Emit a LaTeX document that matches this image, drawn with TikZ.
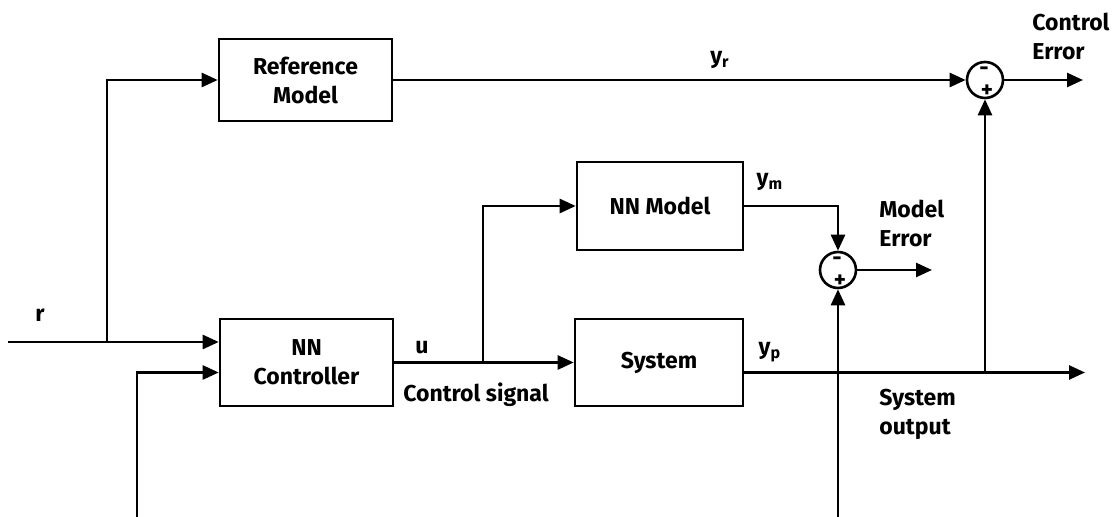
\documentclass[tikz,border=0pt]{standalone}
\usepackage{fontspec}
\setmainfont{Fira Sans}
\usetikzlibrary{positioning,arrows.meta}
\newcommand{\dgfont}{\fontsize{11.5}{14.5}\selectfont\bfseries}
\tikzset{
  block/.style={draw, rectangle, line width=1.3pt, align=center, font=\dgfont,
                minimum width=86.5pt, minimum height=43.5pt},
  sumj/.style={draw, circle, line width=1.3pt, minimum size=18pt, inner sep=0pt},
  sgn/.style={font=\dgfont, inner sep=0pt},
  sig/.style={-{Triangle[length=8pt,width=7pt]}, line width=1.3pt},
  lbl/.style={font=\dgfont, inner sep=1pt},
}

\begin{document}
\begin{tikzpicture}[x=0.5pt,y=-0.5pt]
\useasboundingbox (0,0) rectangle (1116,517);
% blocks
\node[block, minimum height=41pt] (refm) at (305.5,80) {Reference\\Model};
\node[block] (nnc) at (306.5,362.5) {NN\\Controller};
\node[block, minimum width=83pt, minimum height=44pt] (nnm) at (660,206) {NN Model};
\node[block, minimum width=84pt] (sys) at (659,362.5) {System};
% summing junctions
\node[sumj] (ce) at (985,80) {};
\node[sumj] (me) at (838,270) {};
\node[sgn] (cem) at ([xshift=-0.5pt,yshift=4.5pt]ce.center) {-};
\node[sgn] (cep) at ([xshift=1pt,yshift=-5.5pt]ce.center) {+};
\node[sgn] (mem) at ([xshift=-0.5pt,yshift=4.5pt]me.center) {-};
\node[sgn] (mep) at ([xshift=1pt,yshift=-5.5pt]me.center) {+};
% branch points and free ends
\coordinate (rin) at (8,342);
\coordinate (rb) at (107,342);
\coordinate (fb1) at (137,517);
\coordinate (ub) at (483,362.5);
\coordinate (fb2) at (838,517);
\coordinate (yb) at (985,372.5);
\coordinate (yout) at (1085,372.5);
\coordinate (ceout) at (1083,80);
\coordinate (meout) at (932,270);
% signals
\draw[sig] (rin) -- (rin -| nnc.west);
\draw[sig] (rb) |- (refm.west);
\draw[sig] (fb1) |- ([yshift=-5pt]nnc.west);
\draw[sig] (refm.east) -- (ce.west);
\draw[sig] (nnc.east) -- (sys.west);
\draw[sig] (ub) |- (nnm.west);
\draw[sig] (nnm.east) -| (me.north);
\draw[sig] ([yshift=-5pt]sys.east) -- (yout);
\draw[sig] (yb) -- (ce.south);
\draw[sig] (fb2) -- (me.south);
\draw[sig] (ce.east) -- (ceout);
\draw[sig] (me.east) -- (meout);
% labels
\node[lbl] (rl) at (40,315) {r};
\node[lbl] (ul) at (422,348) {u};
\node[lbl] (csl) at (476,395) {Control signal};
\node[lbl] (ypl) at (770,352) {y\textsubscript{p}};
\node[lbl] (yml) at (770,182) {y\textsubscript{m}};
\node[lbl] (yrl) at (720,60) {y\textsubscript{r}};
\node[lbl, anchor=west, align=left] (sol) at (877,414) {System\\output};
\node[lbl, anchor=west, align=left] (mel) at (877,223) {Model\\Error};
\node[lbl, anchor=west, align=left] (cel) at (1030,36) {Control\\Error};
\end{tikzpicture}
\end{document}
